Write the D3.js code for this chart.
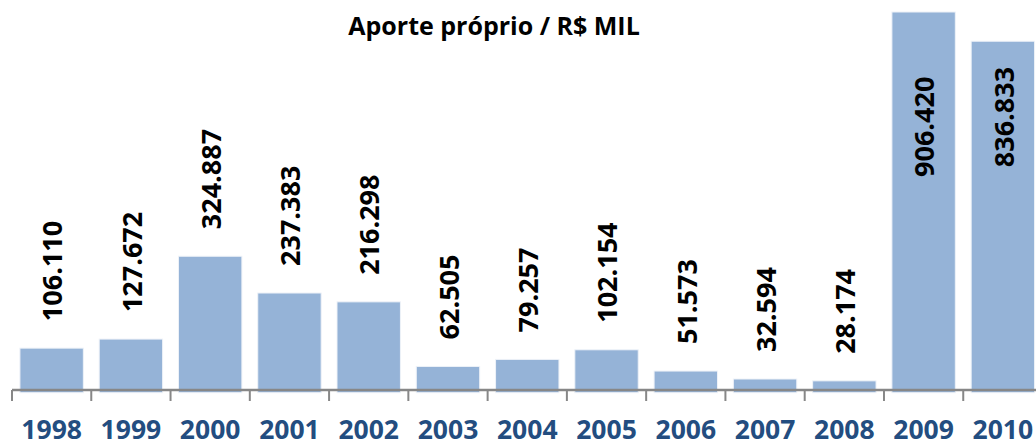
<!DOCTYPE html>
<html>
<head>
<meta charset="utf-8">
<script src="https://cdn.jsdelivr.net/npm/d3@7"></script>
<style>
  body { margin: 0; background: #fff; }
  svg { display: block; font-family: 'Open Sans', 'Noto Sans', sans-serif; }
</style>
</head>
<body>
<svg></svg>
<script>
// data
const years = ['1998', '1999', '2000', '2001', '2002', '2003', '2004',
               '2005', '2006', '2007', '2008', '2009', '2010'];
const values = [106.110, 127.672, 324.887, 237.383, 216.298, 62.505, 79.257,
                102.154, 51.573, 32.594, 28.174, 906.420, 836.833];
const labels = ['106.110', '127.672', '324.887', '237.383', '216.298', '62.505', '79.257',
                '102.154', '51.573', '32.594', '28.174', '906.420', '836.833'];
const title = 'Aporte próprio / R$ MIL';

const size = {w: 1036, h: 443};
const axisY = 390;
const svg = d3.select('svg')
    .attr('width', size.w)
    .attr('height', size.h);

const rows = years.map((y, i) => ({year: y, value: values[i], label: labels[i]}));

const x = d3.scaleBand()
    .domain(years)
    .range([12, 12 + 13 * 79.27])
    .paddingInner(0.2)
    .paddingOuter(0.1);

// value axis is hidden; zero sits just under the category line
const y = d3.scaleLinear()
    .domain([0, 906.42])
    .range([392.7, 12]);

// bars
svg.append('g')
    .selectAll('rect')
    .data(rows)
    .join('rect')
    .attr('x', d => x(d.year))
    .attr('width', x.bandwidth())
    .attr('y', d => y(d.value))
    .attr('height', d => y(0) - y(d.value))
    .attr('fill', '#95b3d7')
    .attr('stroke', '#eef2f8')
    .attr('stroke-width', 1);

// category axis with ticks between categories
const step = x.step();
const left = x(years[0]) - step * x.paddingOuter();
const axisG = svg.append('g');
axisG.append('line')
    .attr('x1', left).attr('x2', size.w)
    .attr('y1', axisY).attr('y2', axisY)
    .attr('stroke', '#878787')
    .attr('stroke-width', 2.5);
axisG.selectAll('.tick')
    .data(d3.range(years.length + 1))
    .join('line')
    .attr('class', 'tick')
    .attr('x1', i => left + i * step).attr('x2', i => left + i * step)
    .attr('y1', axisY).attr('y2', 401)
    .attr('stroke', '#878787')
    .attr('stroke-width', 2);

axisG.selectAll('text')
    .data(years)
    .join('text')
    .attr('x', d => x(d) + x.bandwidth() / 2)
    .attr('y', 439)
    .attr('text-anchor', 'middle')
    .attr('font-size', 26.5)
    .attr('font-weight', 'bold')
    .attr('fill', '#234d80')
    .text(d => d);

// value labels, rotated; the two tall bars carry them inside
const insideOffset = {'2009': 165, '2010': 126};
svg.append('g')
    .selectAll('text')
    .data(rows)
    .join('text')
    .attr('transform', d => {
        const cx = x(d.year) + x.bandwidth() / 2 + 1;
        const ty = insideOffset[d.year] != null ? y(d.value) + insideOffset[d.year] : y(d.value) - 27;
        return `translate(${cx},${ty}) rotate(-90)`;
    })
    .attr('dy', '0.36em')
    .attr('text-anchor', 'start')
    .attr('font-size', 27)
    .attr('font-weight', 'bold')
    .attr('fill', '#000')
    .text(d => d.label);

// title
svg.append('text')
    .attr('x', 494)
    .attr('y', 35)
    .attr('text-anchor', 'middle')
    .attr('font-size', 25)
    .attr('font-weight', 'bold')
    .attr('fill', '#000')
    .text(title);
</script>
</body>
</html>
